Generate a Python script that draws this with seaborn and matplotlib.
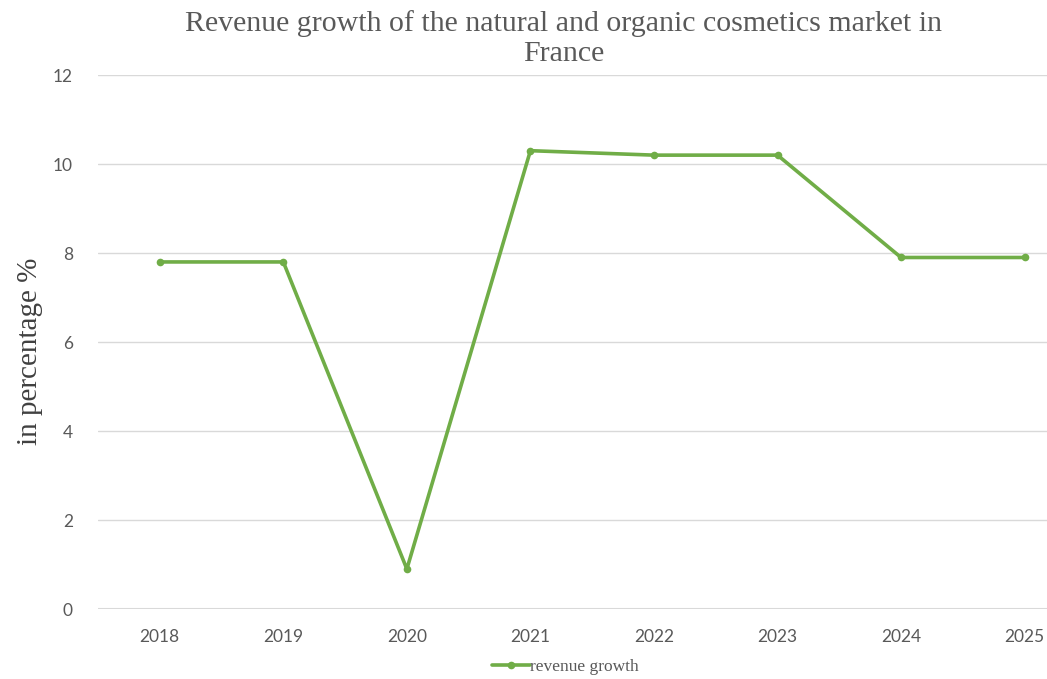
import pandas as pd
import matplotlib.pyplot as plt
import seaborn as sns

# values
years = ['2018', '2019', '2020', '2021', '2022', '2023', '2024', '2025']
growth = [7.8, 7.8, 0.9, 10.3, 10.2, 10.2, 7.9, 7.9]
y_ticks = [0, 2, 4, 6, 8, 10, 12]

df = pd.DataFrame({'year': years, 'growth': growth})

sns.set_style('white')
plt.rcParams['font.family'] = ['Lato', 'DejaVu Sans']

green = '#70AD47'
grey = '#595959'

fig = plt.figure(figsize=(10.47, 6.79), dpi=100)
ax = fig.add_axes([0.0936, 0.103, 0.944, 0.7865])

sns.lineplot(data=df, x='year', y='growth', ax=ax, color=green, linewidth=2.6,
             marker='o', markersize=5.5, markeredgewidth=0, label='revenue growth',
             sort=False)

ax.set_xlim(-0.5, 7.5)
ax.set_ylim(0, 12)
ax.set_yticks(y_ticks)
ax.yaxis.grid(True, color='#D9D9D9', linewidth=1)
ax.set_axisbelow(True)
for s in ax.spines.values():
    s.set_visible(False)
ax.axhline(0, color='#D9D9D9', linewidth=1.5, zorder=0)
ax.tick_params(axis='both', length=0, labelsize=12.5, colors=grey, pad=14)
ax.tick_params(axis='y', pad=18)

ax.set_xlabel('')
ax.set_ylabel('in percentage %', family='Liberation Serif', fontsize=21, color='#404040')
ax.yaxis.set_label_coords(-0.056, 0.482)

fig.suptitle('Revenue growth of the natural and organic cosmetics market in\nFrance',
             family='Liberation Serif', fontsize=21.5, color=grey, x=0.538, y=0.985,
             linespacing=1.2)

ax.get_legend().remove()
h, l = ax.get_legend_handles_labels()
fig.legend(h, l, loc='center', bbox_to_anchor=(0.54, 0.018), frameon=False,
           prop={'family': 'Liberation Serif', 'size': 12.5}, handlelength=2.2,
           handletextpad=0.0, labelcolor=grey)

fig.savefig('out.png', dpi=100)
